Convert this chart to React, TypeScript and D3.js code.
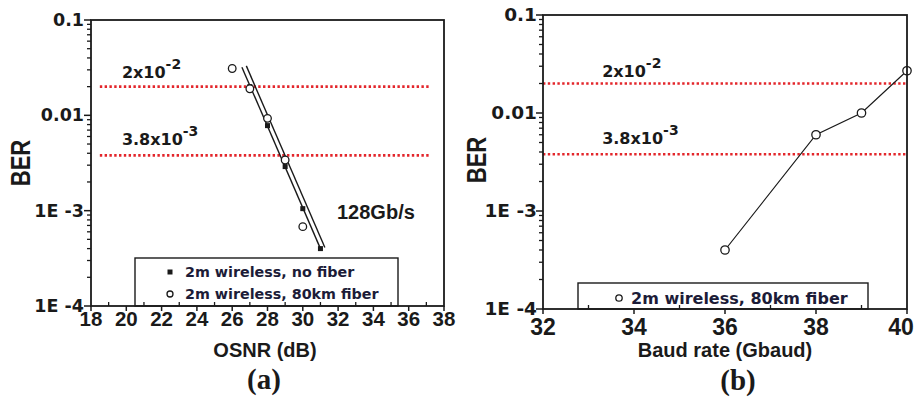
import React from 'react';
import * as d3 from 'd3';

// panel (a): BER vs OSNR at 128Gb/s
const osnrNoFiber = [27, 28, 29, 30, 31];
const berNoFiber = [0.02, 0.0078, 0.0029, 0.00105, 0.0004];
const osnr80km = [26, 27, 28, 29, 30];
const ber80km = [0.031, 0.019, 0.0093, 0.0034, 0.00068];
// linear fit lines drawn over the points
const fitNoFiberX = [26.55, 31.0];
const fitNoFiberY = [0.032, 0.0004];
const fit80kmX = [26.8, 31.25];
const fit80kmY = [0.033, 0.00041];
const osnrTicks = [18, 20, 22, 24, 26, 28, 30, 32, 34, 36, 38];

// panel (b): BER vs baud rate, 80km fiber
const baudRates = [36, 38, 39, 40];
const berBaud = [0.0004, 0.006, 0.01, 0.027];
const baudTicks = [32, 34, 36, 38, 40];

// FEC thresholds
const thresholds = [0.02, 0.0038];
const thresholdBase = ['2x10', '3.8x10'];
const thresholdExp = ['-2', '-3'];

const berTicks = [0.1, 0.01, 0.001, 0.0001];
const berTickLabels = ['0.1', '0.01', '1E -3', '1E -4'];

const ARIAL = '"Liberation Sans", Arial, sans-serif';
const WIDE = '"DejaVu Sans", Verdana, sans-serif';
const INK = '#1a1a1a';
const RED = '#e3262b';

function YAxis({ y, x0, fontSize, labelX }: any) {
  const minors: number[] = [];
  [0.0001, 0.001, 0.01].forEach((d) => {
    for (let k = 2; k <= 9; k++) minors.push(d * k);
  });
  return (
    <g>
      {minors.map((v, i) => (
        <line key={'m' + i} x1={x0 - 4} x2={x0} y1={y(v)} y2={y(v)} stroke={INK} strokeWidth={1.3} />
      ))}
      {berTicks.map((v, i) => (
        <g key={i}>
          <line x1={x0 - 7} x2={x0} y1={y(v)} y2={y(v)} stroke={INK} strokeWidth={1.5} />
          <text x={labelX} y={y(v) + 6} textAnchor="end" fontFamily={WIDE} fontWeight="bold"
            fontSize={fontSize} fill={INK}>{berTickLabels[i]}</text>
        </g>
      ))}
    </g>
  );
}

function XAxis({ x, ticks, y0, fontSize, labelDy, maxLabelX }: any) {
  const minors = ticks.slice(0, -1).map((t: number, i: number) => (t + ticks[i + 1]) / 2);
  return (
    <g>
      {minors.map((v: number, i: number) => (
        <line key={'m' + i} x1={x(v)} x2={x(v)} y1={y0 - 4} y2={y0} stroke={INK} strokeWidth={1.3} />
      ))}
      {ticks.map((v: number, i: number) => (
        <g key={i}>
          <line x1={x(v)} x2={x(v)} y1={y0} y2={y0 + 5} stroke={INK} strokeWidth={1.5} />
          <text x={Math.min(x(v), maxLabelX || 9999)} y={y0 + labelDy} textAnchor="middle" fontFamily={ARIAL}
            fontWeight="bold" fontSize={fontSize} fill={INK}>{v}</text>
        </g>
      ))}
    </g>
  );
}

function Thresholds({ x, y, from, to, labelAt, labelDy }: any) {
  return (
    <g>
      {thresholds.map((t, i) => (
        <g key={i}>
          <line x1={x(from)} x2={x(to)} y1={y(t)} y2={y(t)} stroke={RED} strokeWidth={2.6}
            strokeDasharray="2.4 2.4" />
          <text x={x(labelAt)} y={y(t) - labelDy[i]} fontFamily={WIDE} fontWeight="bold" fontSize={16} fill={INK}>
            {thresholdBase[i]}
            <tspan dy={-9} fontSize={14}>{thresholdExp[i]}</tspan>
          </text>
        </g>
      ))}
    </g>
  );
}

function PanelA() {
  const x = d3.scaleLinear().domain([18, 38]).range([91, 444]);
  const y = d3.scaleLog().domain([1e-4, 0.1]).range([306, 20]);
  const line = d3.line<[number, number]>().x((d) => x(d[0])).y((d) => y(d[1]));
  const fitA = fitNoFiberX.map((v, i) => [v, fitNoFiberY[i]] as [number, number]);
  const fitB = fit80kmX.map((v, i) => [v, fit80kmY[i]] as [number, number]);
  return (
    <g>
      <Thresholds x={x} y={y} from={18.5} to={37.2} labelAt={19.75} labelDy={[9, 10]} />
      <path d={line(fitA) || ''} fill="none" stroke={INK} strokeWidth={1.4} />
      <path d={line(fitB) || ''} fill="none" stroke={INK} strokeWidth={1.4} />
      {osnrNoFiber.map((v, i) => (
        <rect key={i} x={x(v) - 2.5} y={y(berNoFiber[i]) - 2.5} width={5} height={5} fill={INK} />
      ))}
      {osnr80km.map((v, i) => (
        <circle key={i} cx={x(v)} cy={y(ber80km[i])} r={3.8} fill="white" stroke={INK} strokeWidth={1.3} />
      ))}
      <text x={337} y={219} fontFamily={ARIAL} fontWeight="bold" fontSize={20} fill={INK}>128Gb/s</text>
      {/* legend */}
      <rect x={135} y={258} width={263} height={48} fill="white" stroke={INK} strokeWidth={1.4} />
      <rect x={167.5} y={269.5} width={5} height={5} fill={INK} />
      <text x={185} y={277} fontFamily={WIDE} fontWeight="bold" fontSize={14.3} fill="#1c1c38">2m wireless, no fiber</text>
      <circle cx={170} cy={294} r={3} fill="white" stroke={INK} strokeWidth={1.3} />
      <text x={185} y={299} fontFamily={WIDE} fontWeight="bold" fontSize={14.3} fill="#1c1c38">2m wireless, 80km fiber</text>
      <rect x={91} y={20} width={353} height={286} fill="none" stroke={INK} strokeWidth={1.8} />
      <YAxis y={y} x0={91} fontSize={17.5} labelX={84} />
      <XAxis x={x} ticks={osnrTicks} y0={306} fontSize={20.5} labelDy={20} />
      <text x={265} y={357} textAnchor="middle" fontFamily={ARIAL} fontWeight="bold" fontSize={20} fill={INK}>OSNR (dB)</text>
      <text transform="translate(30,163) rotate(-90) scale(1,1.25)" textAnchor="middle" fontFamily={ARIAL}
        fontWeight="bold" fontSize={22} fill={INK}>BER</text>
      <text x={264} y={389} textAnchor="middle" fontFamily='"Liberation Serif", "Times New Roman", serif'
        fontWeight="bold" fontSize={29} fill={INK}>(a)</text>
    </g>
  );
}

function PanelB() {
  const x = d3.scaleLinear().domain([32, 40]).range([543, 907]);
  const y = d3.scaleLog().domain([1e-4, 0.1]).range([309, 15]);
  const line = d3.line<number>().x((d) => x(d)).y((d, i) => y(berBaud[i]));
  return (
    <g>
      <Thresholds x={x} y={y} from={32} to={40} labelAt={33.3} labelDy={[6, 10]} />
      <path d={line(baudRates) || ''} fill="none" stroke={INK} strokeWidth={1.2} />
      {baudRates.map((v, i) => (
        <circle key={i} cx={x(v)} cy={y(berBaud[i])} r={4.2} fill="white" stroke={INK} strokeWidth={1.3} />
      ))}
      <rect x={578} y={283} width={290} height={26} fill="white" stroke={INK} strokeWidth={1.4} />
      <circle cx={619} cy={298} r={3.2} fill="white" stroke={INK} strokeWidth={1.3} />
      <text x={631} y={304} fontFamily={WIDE} fontWeight="bold" fontSize={16} fill="#1c1c38">2m wireless, 80km fiber</text>
      <rect x={543} y={15} width={364} height={294} fill="none" stroke={INK} strokeWidth={1.8} />
      <YAxis y={y} x0={543} fontSize={18.5} labelX={537} />
      <XAxis x={x} ticks={baudTicks} y0={309} fontSize={23} labelDy={26} maxLabelX={901} />
      <text x={725} y={357} textAnchor="middle" fontFamily={ARIAL} fontWeight="bold" fontSize={20} fill={INK}>Baud rate (Gbaud)</text>
      <text transform="translate(486,160) rotate(-90) scale(1,1.25)" textAnchor="middle" fontFamily={ARIAL}
        fontWeight="bold" fontSize={22} fill={INK}>BER</text>
      <text x={738} y={390} textAnchor="middle" fontFamily='"Liberation Serif", "Times New Roman", serif'
        fontWeight="bold" fontSize={29} fill={INK}>(b)</text>
    </g>
  );
}

export default function App() {
  return (
    <svg width={915} height={403} style={{ position: 'absolute', left: 0, top: 0, background: 'white' }}>
      <rect width={915} height={403} fill="white" />
      <PanelA />
      <PanelB />
    </svg>
  );
}
